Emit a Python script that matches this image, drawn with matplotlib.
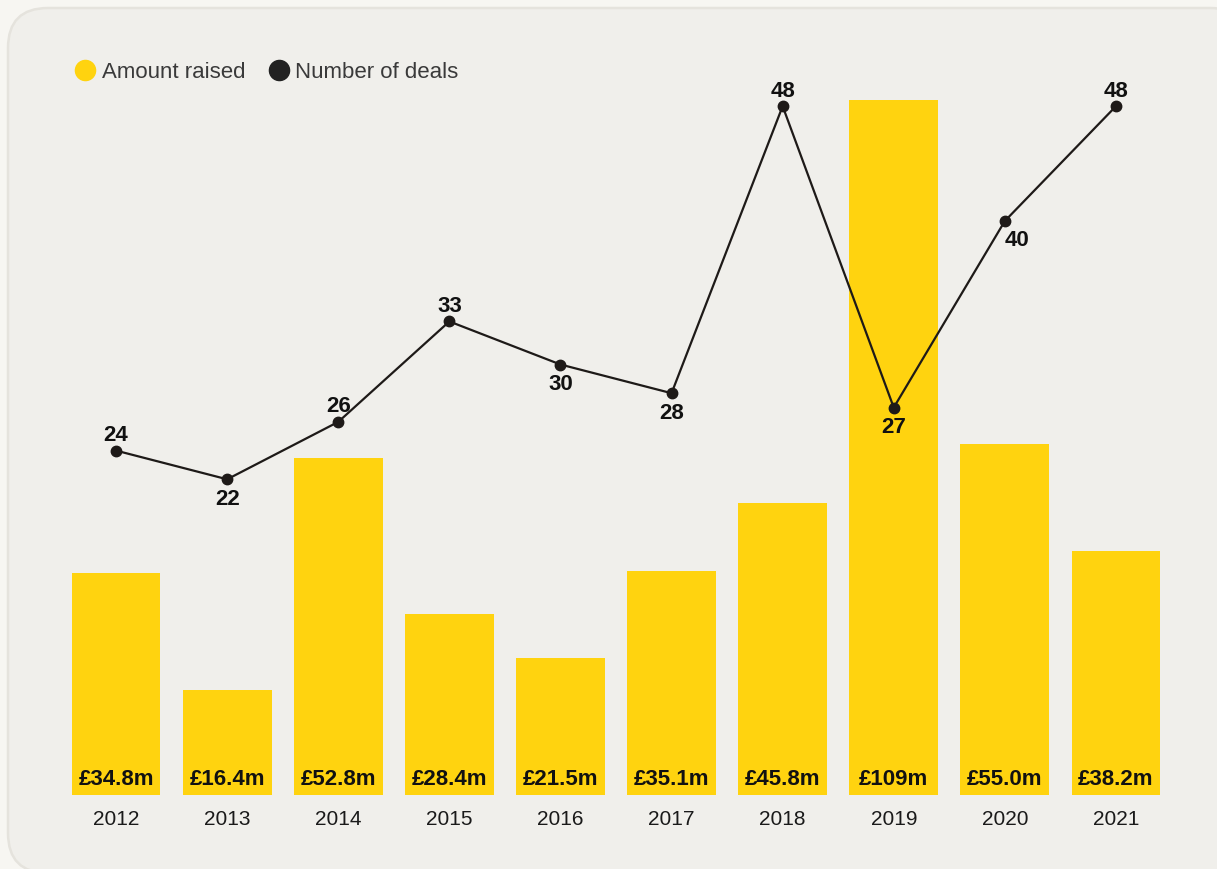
import matplotlib
matplotlib.use("Agg")
import matplotlib.pyplot as plt
from matplotlib.patches import FancyBboxPatch
from matplotlib.lines import Line2D

years = ["2012", "2013", "2014", "2015", "2016", "2017", "2018", "2019", "2020", "2021"]
amount_raised = [34.8, 16.4, 52.8, 28.4, 21.5, 35.1, 45.8, 109, 55.0, 38.2]
amount_labels = ["£34.8m", "£16.4m", "£52.8m", "£28.4m", "£21.5m", "£35.1m", "£45.8m", "£109m", "£55.0m", "£38.2m"]
deals = [24, 22, 26, 33, 30, 28, 48, 27, 40, 48]
deal_label_pos = ["above", "below", "above", "above", "below", "below", "above", "below", "below", "above"]

YELLOW = "#ffd30f"
DARK = "#1e1a18"
OUTER = "#f7f6f2"
CARD = "#f0efeb"
FONT = ["Liberation Sans", "DejaVu Sans"]

plt.rcParams["font.family"] = FONT

W, H, DPI = 1217, 870, 100
fig = plt.figure(figsize=(W / DPI, H / DPI), dpi=DPI)
fig.patch.set_facecolor(OUTER)

# Card background (pixel -> inches); extends past right and bottom edges
card = FancyBboxPatch((8 / DPI, -4 / DPI), (1250 - 8) / DPI, (861 + 4) / DPI,
                      boxstyle="round,pad=0,rounding_size=0.4",
                      transform=fig.dpi_scale_trans, facecolor=CARD,
                      edgecolor="#e5e3dd", linewidth=1.8, zorder=-5)
fig.patches.append(card)

# Axes: x from 60.5 to 1171.5 px, y from 796 (bottom) to 60 (top) in image coords
left = 60.5 / W
width = 1111 / W
bottom = (H - 796) / H
height = (796 - 60) / H
ax = fig.add_axes([left, bottom, width, height])
ax.set_facecolor("none")
x = list(range(len(years)))

ax.bar(x, amount_raised, width=0.8, color=YELLOW, zorder=1)
ax.set_xlim(-0.5, len(years) - 0.5)
ax.set_ylim(0, 736 / 6.38)
for xi, lab in zip(x, amount_labels):
    ax.annotate(lab, (xi, 0), xytext=(0, 4), textcoords="offset points",
                ha="center", va="bottom", fontsize=16, fontweight="bold",
                color="#111111", zorder=3)

ax.set_xticks(x)
ax.set_xticklabels(years, fontsize=15, color="#1a1a1a")
ax.tick_params(axis="x", length=0, pad=10)
ax.set_yticks([])
for s in ax.spines.values():
    s.set_visible(False)

ax2 = ax.twinx()
ax2.set_facecolor("none")
ax2.set_ylim(0, 736 / 14.35)
ax2.plot(x, deals, color=DARK, linewidth=1.6, marker="o", markersize=7.5,
         markerfacecolor=DARK, markeredgecolor=DARK, zorder=4)
label_dx = {8: 9}
for i, (xi, v, pos) in enumerate(zip(x, deals, deal_label_pos)):
    dx = label_dx.get(i, 0)
    if pos == "above":
        ax2.annotate(str(v), (xi, v), xytext=(dx, 4), textcoords="offset points",
                     ha="center", va="bottom", fontsize=16, fontweight="bold",
                     color="#111111")
    else:
        ax2.annotate(str(v), (xi, v), xytext=(dx, -6), textcoords="offset points",
                     ha="center", va="top", fontsize=16, fontweight="bold",
                     color="#111111")
ax2.set_yticks([])
for s in ax2.spines.values():
    s.set_visible(False)

handles = [
    Line2D([], [], linestyle="none", marker="o", markersize=14.5,
           markerfacecolor=YELLOW, markeredgecolor=YELLOW, label="Amount raised"),
    Line2D([], [], linestyle="none", marker="o", markersize=14.5,
           markerfacecolor="#222222", markeredgecolor="#222222", label="Number of deals"),
]
fig.legend(handles=handles, loc="center left", bbox_to_anchor=(74 / W, 1 - 73 / H),
           ncol=2, frameon=False, fontsize=16, handlelength=1.0,
           handletextpad=0.25, columnspacing=1.0, labelcolor="#3a3a3a",
           borderaxespad=0, borderpad=0)

fig.savefig("out.png", dpi=DPI, facecolor=OUTER)
